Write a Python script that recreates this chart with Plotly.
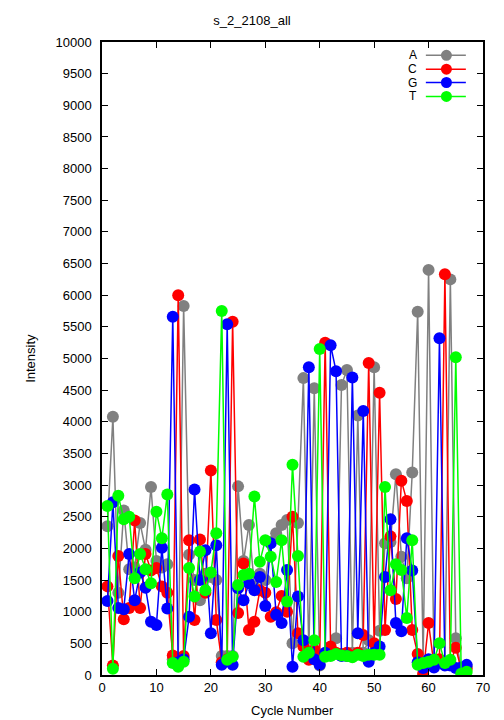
import plotly.graph_objects as go

cycles = list(range(1, 68))

A = [2350, 4080, 1300, 2600, 1670, 1700, 2400, 1980, 2970, 1800,
     1700, 1750, 250, 250, 5830, 1900, 1500, 1180, 1600, 1550,
     1500, 300, 300, 300, 2980, 1800, 2370, 1400, 1600, 1500,
     2100, 2240, 2370, 2450, 500, 2400, 4690, 350, 4530, 150,
     300, 350, 580, 4580, 4820, 350, 4100, 350, 550, 4860,
     700, 2080, 2100, 3170, 1870, 1530, 3200, 5740, 200, 6400,
     150, 200, 200, 6250, 580, 100, 130]

C = [1400, 150, 1880, 880, 1060, 2440, 1060, 1910, 1650, 1690,
     1400, 1300, 310, 6000, 300, 2130, 870, 2140, 1300, 3230,
     870, 200, 250, 5580, 980, 1760, 710, 840, 1340, 1300,
     920, 990, 1250, 1000, 2500, 660, 450, 240, 400, 300,
     5250, 450, 350, 330, 350, 300, 350, 630, 4930, 500,
     4460, 710, 2190, 1200, 3070, 2750, 710, 330, 20, 820,
     150, 250, 6330, 200, 430, 80, 100]

G = [1170, 2730, 1060, 1040, 1910, 1180, 1620, 1380, 840, 790,
     2010, 1050, 5660, 200, 250, 920, 2930, 1500, 1970, 660,
     2050, 160, 5540, 160, 1370, 1180, 1450, 1340, 1550, 1090,
     2080, 950, 820, 1660, 130, 1240, 550, 4860, 250, 160,
     350, 5210, 4800, 300, 300, 4700, 660, 4170, 210, 350,
     450, 1550, 2460, 820, 690, 2160, 1650, 200, 110, 250,
     120, 5320, 150, 150, 110, 120, 160]

T = [2670, 100, 2830, 2460, 2500, 1530, 1910, 1670, 1450, 2580,
     2160, 2850, 190, 130, 210, 1690, 1240, 1950, 1340, 1620,
     2240, 5750, 240, 290, 1420, 1580, 1600, 2820, 1790, 2130,
     1870, 1470, 2130, 1160, 3320, 1880, 290, 350, 550, 5150,
     290, 300, 330, 310, 300, 280, 320, 300, 320, 320,
     320, 2970, 1340, 1750, 1660, 900, 2130, 160, 190, 210,
     240, 500, 190, 240, 5020, 20, 50]

series_names = ["A", "C", "G", "T"]
series_values = [A, C, G, T]
series_colors = ["#808080", "#ff0000", "#0000ff", "#00ff00"]

FONT = "Liberation Sans, Arial, Helvetica, sans-serif"

fig = go.Figure()
for name, vals, col in zip(series_names, series_values, series_colors):
    fig.add_trace(go.Scatter(
        x=cycles, y=vals, mode="lines+markers", name=name,
        line=dict(color=col, width=1.5),
        marker=dict(color=col, size=12, line=dict(width=0)),
        showlegend=False,
    ))

# manual gnuplot-style legend (text left, sample right)
leg_y = [0.979, 0.957, 0.936, 0.914]
shapes = []
annotations = []
for name, col, yy in zip(series_names, series_colors, leg_y):
    annotations.append(dict(x=0.829, y=yy, xref="paper", yref="paper",
                            text=name, showarrow=False, xanchor="right",
                            yanchor="middle", borderpad=0,
                            font=dict(size=12, color="black", family=FONT)))
    shapes.append(dict(type="line", xref="paper", yref="paper",
                       x0=0.850, x1=0.955, y0=yy, y1=yy,
                       line=dict(color=col, width=1.5)))
    shapes.append(dict(type="circle", xref="paper", yref="paper",
                       xsizemode="pixel", ysizemode="pixel",
                       xanchor=0.904, yanchor=yy,
                       x0=-5.5, x1=5.5, y0=-5.5, y1=5.5,
                       fillcolor=col, line=dict(width=0)))

annotations.append(dict(x=-0.188, y=0.5, xref="paper", yref="paper",
                        text="Intensity", showarrow=False, textangle=-90,
                        xanchor="center", yanchor="middle",
                        font=dict(size=13, color="black", family=FONT)))
annotations.append(dict(x=0.5, y=-0.056, xref="paper", yref="paper",
                        text="Cycle Number", showarrow=False,
                        xanchor="center", yanchor="middle",
                        font=dict(size=13, color="black", family=FONT)))

fig.update_layout(
    width=504, height=720,
    margin=dict(l=102, r=21, t=42, b=45),
    paper_bgcolor="white", plot_bgcolor="white",
    font=dict(family=FONT, size=13, color="black"),
    title=dict(text="s_2_2108_all", x=0.5, xanchor="center", y=0.972, yanchor="middle",
               font=dict(size=13, family=FONT, color="black")),
    shapes=shapes, annotations=annotations,
    showlegend=False,
)
fig.update_xaxes(range=[0, 70], dtick=10, tick0=0, showgrid=False, zeroline=False,
                 showline=True, linecolor="black", linewidth=1.5, mirror="allticks",
                 ticks="inside", ticklen=6, tickcolor="black", tickwidth=1,
                 tickformat="d")
fig.update_yaxes(range=[0, 10000], dtick=500, tick0=0, showgrid=False, zeroline=False,
                 showline=True, linecolor="black", linewidth=1.5, mirror="allticks",
                 ticks="inside", ticklen=6, tickcolor="black", tickwidth=1,
                 ticklabelstandoff=6, tickformat="d")

fig.write_html("out.html", config={"displayModeBar": False},
               post_script="document.body.style.margin='0';document.body.style.overflow='hidden';")
